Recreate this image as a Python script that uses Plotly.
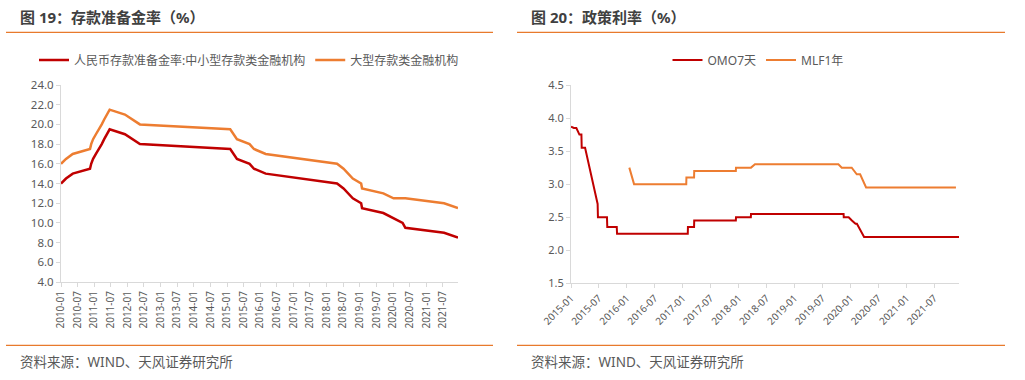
import plotly.graph_objects as go

W, H = 1025, 380

# ---------- Data: Fig 19 reserve requirement ratio (%) ----------
rrr_dates = ["2010-01-01", "2010-02-25", "2010-05-10", "2010-11-16", "2010-11-29", "2010-12-20",
             "2011-01-20", "2011-02-24", "2011-03-25", "2011-04-21", "2011-05-18", "2011-06-20",
             "2011-12-05", "2012-02-24", "2012-05-18", "2015-02-05", "2015-04-20", "2015-09-06",
             "2015-10-24", "2016-03-01", "2018-04-25", "2018-07-05", "2018-10-15", "2019-01-15",
             "2019-01-25", "2019-09-16", "2020-01-06", "2020-04-15", "2020-05-15", "2021-07-15",
             "2021-12-15"]
rrr_small = [14.0, 14.5, 15.0, 15.5, 16.0, 16.5,
             17.0, 17.5, 18.0, 18.5, 19.0, 19.5,
             19.0, 18.5, 18.0, 17.5, 16.5, 16.0,
             15.5, 15.0, 14.0, 13.5, 12.5, 12.0,
             11.5, 11.0, 10.5, 10.0, 9.5, 9.0,
             8.5]
rrr_large = [16.0, 16.5, 17.0, 17.5, 18.0, 18.5,
             19.0, 19.5, 20.0, 20.5, 21.0, 21.5,
             21.0, 20.5, 20.0, 19.5, 18.5, 18.0,
             17.5, 17.0, 16.0, 15.5, 14.5, 14.0,
             13.5, 13.0, 12.5, 12.5, 12.5, 12.0,
             11.5]
rrr_names = ["人民币存款准备金率:中小型存款类金融机构", "大型存款类金融机构"]
rrr_ticks = [f"{y}-{m}" for y in range(2010, 2022) for m in ("01", "07")]

# ---------- Data: Fig 20 policy rates (%) ----------
omo_dates = ["2015-01-01", "2015-01-20", "2015-02-05", "2015-02-25", "2015-03-10", "2015-03-12",
             "2015-04-03", "2015-06-24", "2015-06-26", "2015-08-24", "2015-08-26", "2015-10-27",
             "2015-10-29", "2017-02-02", "2017-02-03", "2017-03-15", "2017-03-16", "2017-12-13",
             "2017-12-14", "2018-03-21", "2018-03-22", "2019-11-17", "2019-11-18", "2019-12-20",
             "2020-01-10", "2020-02-03", "2020-02-12", "2020-03-30", "2021-12-10"]
omo_vals = [3.87, 3.85, 3.85, 3.75, 3.75, 3.55,
            3.55, 2.70, 2.50, 2.50, 2.35, 2.35,
            2.25, 2.25, 2.35, 2.35, 2.45, 2.45,
            2.50, 2.50, 2.55, 2.55, 2.50, 2.50,
            2.45, 2.40, 2.40, 2.20, 2.20]
mlf_dates = ["2016-01-17", "2016-02-17", "2017-01-23", "2017-01-24", "2017-03-15", "2017-03-16",
             "2017-12-13", "2017-12-14", "2018-03-22", "2018-04-17", "2019-10-14", "2019-11-05",
             "2020-01-09", "2020-02-11", "2020-03-04", "2020-04-12", "2021-11-20"]
mlf_vals = [3.25, 3.00, 3.00, 3.10, 3.10, 3.20,
            3.20, 3.25, 3.25, 3.30, 3.30, 3.25,
            3.25, 3.15, 3.15, 2.95, 2.95]
rate_names = ["OMO7天", "MLF1年"]
rate_ticks = [f"{y}-{m}" for y in range(2015, 2022) for m in ("01", "07")]

RED = "#C00000"
ORANGE = "#ED7D31"
SEP = "#E87A2C"
GRAY = "#595959"
AXIS = "#D9D9D9"
FONT = "Noto Sans, Noto Sans CJK SC, sans-serif"


def px_x(p):
    return p / W


def px_y(p):
    return 1 - p / H


fig = go.Figure()
fig.add_trace(go.Scatter(x=rrr_dates, y=rrr_small, name=rrr_names[0], mode="lines",
                         line=dict(color=RED, width=2.5), xaxis="x", yaxis="y", legend="legend"))
fig.add_trace(go.Scatter(x=rrr_dates, y=rrr_large, name=rrr_names[1], mode="lines",
                         line=dict(color=ORANGE, width=2.5), xaxis="x", yaxis="y", legend="legend"))
fig.add_trace(go.Scatter(x=omo_dates, y=omo_vals, name=rate_names[0], mode="lines",
                         line=dict(color=RED, width=2), xaxis="x2", yaxis="y2", legend="legend2"))
fig.add_trace(go.Scatter(x=mlf_dates, y=mlf_vals, name=rate_names[1], mode="lines",
                         line=dict(color=ORANGE, width=2), xaxis="x2", yaxis="y2", legend="legend2"))

axis_common = dict(showline=True, linecolor=AXIS, linewidth=1, showgrid=False, zeroline=False,
                   ticks="outside", ticklen=4, tickcolor=AXIS, automargin=False,
                   tickfont=dict(size=10, color=GRAY, family=FONT))

rrr_tickvals = [t + "-01" for t in rrr_ticks]
rate_tickvals = [t + "-01" for t in rate_ticks]

fig.update_layout(
    width=W, height=H, margin=dict(l=0, r=0, t=0, b=0, autoexpand=False),
    paper_bgcolor="white", plot_bgcolor="white",
    font=dict(family=FONT, color=GRAY),
    xaxis=dict(domain=[px_x(61), px_x(458)], type="date", range=["2010-01-01", "2021-12-15"],
               tickmode="array", tickvals=rrr_tickvals, ticktext=rrr_ticks, tickangle=-90,
               anchor="y", **axis_common),
    yaxis=dict(domain=[px_y(282), px_y(85)], range=[4, 24], dtick=2, tick0=4, tickformat=".1f",
               anchor="x", **{**axis_common, "tickfont": dict(size=11.5, color=GRAY, family=FONT)}),
    xaxis2=dict(domain=[px_x(571), px_x(959)], type="date", range=["2015-01-01", "2021-12-10"],
                tickmode="array", tickvals=rate_tickvals, ticktext=rate_ticks, tickangle=-45,
                anchor="y2", **axis_common),
    yaxis2=dict(domain=[px_y(283.3), px_y(85)], range=[1.5, 4.5], dtick=0.5, tick0=1.5, tickformat=".1f",
                anchor="x2", **{**axis_common, "tickfont": dict(size=11, color=GRAY, family=FONT)}),
    legend=dict(orientation="h", x=px_x(249), y=px_y(60), xanchor="center", yanchor="middle",
                font=dict(size=12, color=GRAY, family=FONT), bgcolor="rgba(0,0,0,0)",
                itemwidth=30, tracegroupgap=0),
    legend2=dict(orientation="h", x=px_x(758), y=px_y(60), xanchor="center", yanchor="middle",
                 font=dict(size=12, color=GRAY, family=FONT), bgcolor="rgba(0,0,0,0)",
                 itemwidth=30, tracegroupgap=0),
    showlegend=True,
)

shapes = []
for (x0, x1) in [(6, 493), (517, 1005)]:
    for yy in (32.3, 345.3):
        shapes.append(dict(type="line", xref="paper", yref="paper", x0=px_x(x0), x1=px_x(x1),
                           y0=px_y(yy), y1=px_y(yy), line=dict(color=SEP, width=1.3)))
fig.update_layout(shapes=shapes)

annotations = [
    dict(text="图 19：存款准备金率（%）", x=px_x(18), y=px_y(17.5), xref="paper", yref="paper",
         xanchor="left", yanchor="middle", showarrow=False,
         font=dict(size=15, color="#404040", family=FONT, weight="bold")),
    dict(text="图 20：政策利率（%）", x=px_x(529), y=px_y(17.5), xref="paper", yref="paper",
         xanchor="left", yanchor="middle", showarrow=False,
         font=dict(size=15, color="#404040", family=FONT, weight="bold")),
    dict(text="资料来源：WIND、天风证券研究所", x=px_x(18), y=px_y(361.5), xref="paper", yref="paper",
         xanchor="left", yanchor="middle", showarrow=False,
         font=dict(size=13.5, color=GRAY, family=FONT)),
    dict(text="资料来源：WIND、天风证券研究所", x=px_x(528.5), y=px_y(361.5), xref="paper", yref="paper",
         xanchor="left", yanchor="middle", showarrow=False,
         font=dict(size=13.5, color=GRAY, family=FONT)),
]
fig.update_layout(annotations=annotations)

fig.write_html("out.html", config={"displayModeBar": False},
               post_script="document.body.style.margin='0';document.body.style.padding='0';")
